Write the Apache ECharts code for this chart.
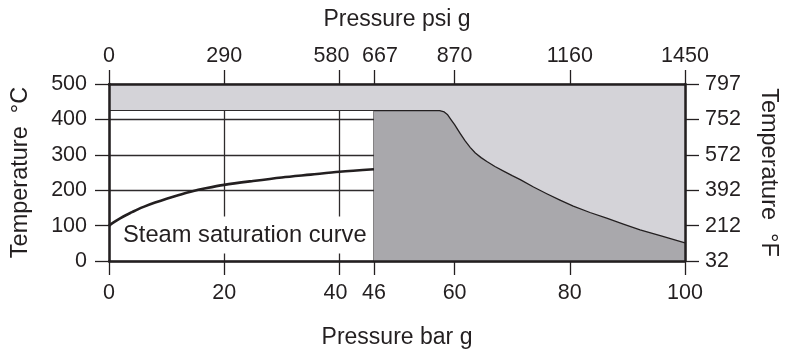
<!DOCTYPE html>
<html><head><meta charset="utf-8">
<script src="https://cdn.jsdelivr.net/npm/echarts@6/dist/echarts.min.js"></script>
<style>html,body{margin:0;padding:0;background:#fff}#c{width:786px;height:350px}</style>
</head><body><div id="c"></div>
<script>
// ---- data ----
const barTicks = [0, 20, 40, 46, 60, 80, 100];
const psiLabels = ['0', '290', '580', '667', '870', '1160', '1450'];
const celsiusTicks = [0, 100, 200, 300, 400, 500];
const fahrenheitLabels = ['32', '212', '392', '572', '752', '797'];
const satPressure = [0, 1, 2, 3, 4, 5, 6, 8, 10, 12, 14, 17, 20, 25, 30, 35, 40, 46];
const satTemp = [100, 111, 121, 130, 138, 146, 153, 165, 176, 186, 195, 206, 215, 226, 236, 244, 252, 259];
const bandPressure = [0, 46, 46, 100];
const bandTemp = [425, 425, 0, 0];
const limitPressure = [46, 57.4, 58.2, 58.8, 59.4, 60, 60.9, 61.8, 62.7, 63.6, 64.6, 65.6, 67, 68.5, 70, 71.4, 73.7, 76, 78.3, 80.6, 83.5, 86.4, 89.3, 92.2, 96, 100];
const limitTemp = [425, 425, 421, 413, 399, 385, 362, 340, 321, 305, 292, 281, 267, 254, 241, 230, 209, 190, 172, 155, 137, 121, 104, 88, 70, 51];
const annotation = 'Steam saturation curve';

// ---- chart ----
const txt = '#231f20';
const font = '"Liberation Sans", Arial, sans-serif';
const pts = (xs, ys) => xs.map((x, i) => [x, ys[i]]);
const TICK_FS = 21.5;
const lblStyle = { fontSize: TICK_FS, color: txt, fontFamily: font };
const lineS = { color: txt, width: 2.5 };
const tickS = { color: txt, width: 1.3 };
const richBase = { fontSize: TICK_FS, color: txt, fontFamily: font };
const rich = {
  n: Object.assign({}, richBase),
  l8: Object.assign({ padding: [0, 16, 0, 0] }, richBase),
  l4: Object.assign({ padding: [0, 8, 0, 0] }, richBase),
  r6: Object.assign({ padding: [0, 0, 0, 12] }, richBase)
};
const topNudge = { 40: 'l8', 46: 'r6' };
const bottomNudge = { 40: 'l4' };

const chart = echarts.init(document.getElementById('c'), null, { renderer: 'canvas' });
chart.setOption({
  animation: false,
  backgroundColor: '#ffffff',
  grid: { left: 109, right: 101, top: 84, bottom: 89, containLabel: false, outerBoundsMode: 'none' },
  xAxis: [
    {
      type: 'value', position: 'bottom', min: 0, max: 100, interval: 20, z: 10,
      axisLine: { show: true, onZero: false, lineStyle: lineS },
      axisTick: { show: true, customValues: barTicks, length: 14, inside: false, lineStyle: tickS },
      axisLabel: Object.assign({ customValues: barTicks, margin: 21, rich: rich,
        formatter: v => '{' + (bottomNudge[v] || 'n') + '|' + v + '}' }, lblStyle),
      splitLine: { show: false },
      name: 'Pressure bar g', nameLocation: 'middle', nameGap: 65,
      nameTextStyle: { fontSize: 23, color: txt, fontFamily: font }
    },
    {
      type: 'value', position: 'top', min: 0, max: 100, interval: 20, z: 10,
      axisLine: { show: true, onZero: false, lineStyle: lineS },
      axisTick: { show: true, customValues: barTicks, length: 14, inside: false, lineStyle: tickS },
      axisLabel: Object.assign({ customValues: barTicks, margin: 17, rich: rich,
        formatter: v => '{' + (topNudge[v] || 'n') + '|' + psiLabels[barTicks.indexOf(v)] + '}' }, lblStyle),
      splitLine: { show: false },
      name: 'Pressure psi g', nameLocation: 'middle', nameGap: 53,
      nameTextStyle: { fontSize: 23, color: txt, fontFamily: font }
    },
    {
      type: 'value', position: 'bottom', min: 0, max: 100, interval: 20, z: 0,
      axisLine: { show: false }, axisTick: { show: false }, axisLabel: { show: false },
      splitLine: { show: true, lineStyle: { color: '#2e2b2c', width: 1.3 } }
    }
  ],
  yAxis: [
    {
      type: 'value', position: 'left', min: 0, max: 500, interval: 100, z: 10,
      axisLine: { show: true, onZero: false, lineStyle: lineS },
      axisTick: { show: true, length: 14, inside: false, lineStyle: tickS },
      axisLabel: Object.assign({ margin: 22 }, lblStyle),
      splitLine: { show: false },
      name: 'Temperature  °C', nameLocation: 'middle', nameGap: 76,
      nameTextStyle: { fontSize: 23.5, color: txt, fontFamily: font }
    },
    {
      type: 'value', position: 'right', min: 0, max: 500, interval: 100, z: 10,
      axisLine: { show: true, onZero: false, lineStyle: lineS },
      axisTick: { show: true, length: 14, inside: false, lineStyle: tickS },
      axisLabel: Object.assign({ margin: 20,
        formatter: v => fahrenheitLabels[celsiusTicks.indexOf(v)] }, lblStyle),
      splitLine: { show: false },
      name: 'Temperature  °F', nameLocation: 'middle', nameGap: 71, nameRotate: -90,
      nameTextStyle: { fontSize: 23.5, color: txt, fontFamily: font }
    },
    {
      type: 'value', position: 'left', min: 0, max: 500, interval: 100, z: 0,
      axisLine: { show: false }, axisTick: { show: false }, axisLabel: { show: false },
      splitLine: { show: true, lineStyle: { color: '#2e2b2c', width: 1.3 } }
    }
  ],
  graphic: [{
    type: 'text', x: 111, y: 235, z: 1,
    style: {
      text: annotation, fontSize: 23.7, fontFamily: font, fill: txt,
      verticalAlign: 'middle', backgroundColor: '#ffffff', padding: [7, 8, 6, 12]
    }
  }],
  series: [
    {
      type: 'line', xAxisIndex: 0, yAxisIndex: 0, z: 2, silent: true,
      data: pts(bandPressure, bandTemp), symbol: 'none',
      lineStyle: { width: 1.1, color: '#2e2b2c' },
      areaStyle: { origin: 'end', color: '#d4d3d8', opacity: 1 }
    },
    {
      type: 'line', xAxisIndex: 0, yAxisIndex: 0, z: 3, silent: true,
      data: pts(limitPressure, limitTemp), symbol: 'none',
      lineStyle: { width: 1.3, color: txt, join: 'round' },
      areaStyle: { origin: 'start', color: '#a9a8ac', opacity: 1 }
    },
    {
      type: 'line', xAxisIndex: 0, yAxisIndex: 0, z: 4, silent: true,
      data: pts(satPressure, satTemp), symbol: 'none', smooth: 0.3,
      lineStyle: { width: 2.6, color: txt }
    }
  ]
});
</script>
</body></html>
